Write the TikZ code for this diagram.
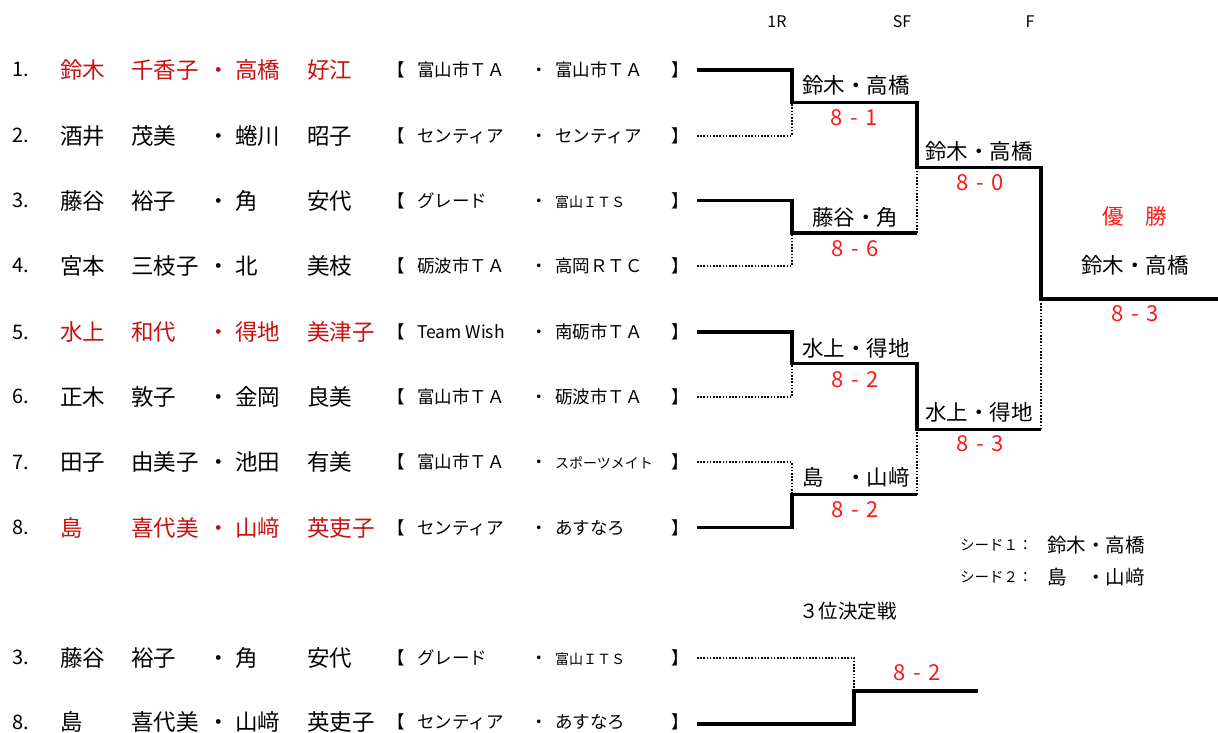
\documentclass[tikz,border=0pt]{standalone}
\usepackage{fontspec}
\setmainfont{Noto Sans CJK JP}
\definecolor{namered}{RGB}{200,16,16}
\definecolor{scorered}{RGB}{255,24,24}
\newcommand\duo[4]{\makebox[71pt][l]{#1}\makebox[76pt][l]{#2}\makebox[28pt][l]{・}\makebox[72pt][l]{#3}#4}
\newcommand\club[2]{\makebox[30pt][l]{【}\makebox[113pt][l]{#1}\makebox[25pt][l]{・}\makebox[116pt][l]{#2}】}
\newcommand\smallclub[1]{{\fontsize{14}{16}\selectfont #1}}
\newcommand\res[2]{#1\hspace{0.35em}-\hspace{0.35em}#2}

\begin{document}
\begin{tikzpicture}[x=1pt, y=-1pt,
    num/.style = {anchor=west, inner sep=0, font=\fontsize{20}{22}\selectfont},
    pl/.style = {anchor=west, inner sep=0, font=\fontsize{22.5}{26}\selectfont},
    club/.style = {anchor=west, inner sep=0, font=\fontsize{17.5}{20}\selectfont},
    lbl/.style = {inner sep=0, font=\fontsize{21.5}{24}\selectfont},
    score/.style = {inner sep=0, text=scorered, font=\fontsize{22}{24}\selectfont},
    head/.style = {inner sep=0, font=\fontsize{16}{18}\selectfont},
    win/.style = {line width=3.2pt},
    lose/.style = {line width=1.7pt, dash pattern=on 1.6pt off 1.6pt}]
    \useasboundingbox (0,0) rectangle (1218,733);

    \node[head](h1) at (777,22) {1R};
    \node[head](h2) at (902,22) {SF};
    \node[head](h3) at (1030,22) {F};

    \node[num](n1) at (12,70) {1.};
    \node[pl, text=namered](p1) at (60,70) {\duo{鈴木}{千香子}{高橋}{好江}};
    \node[club](k1) at (387,70) {\club{富山市ＴＡ}{富山市ＴＡ}};
    \node[num](n2) at (12,135.7) {2.};
    \node[pl](p2) at (60,135.7) {\duo{酒井}{茂美}{蜷川}{昭子}};
    \node[club](k2) at (387,135.7) {\club{センティア}{センティア}};
    \node[num](n3) at (12,200.7) {3.};
    \node[pl](p3) at (60,200.7) {\duo{藤谷}{裕子}{角}{安代}};
    \node[club](k3) at (387,200.7) {\club{グレード}{\smallclub{富山ＩＴＳ}}};
    \node[num](n4) at (12,265.7) {4.};
    \node[pl](p4) at (60,265.7) {\duo{宮本}{三枝子}{北}{美枝}};
    \node[club](k4) at (387,265.7) {\club{砺波市ＴＡ}{高岡ＲＴＣ}};
    \node[num](n5) at (12,332) {5.};
    \node[pl, text=namered](p5) at (60,332) {\duo{水上}{和代}{得地}{美津子}};
    \node[club](k5) at (387,332) {\club{Team Wish}{南砺市ＴＡ}};
    \node[num](n6) at (12,396.7) {6.};
    \node[pl](p6) at (60,396.7) {\duo{正木}{敦子}{金岡}{良美}};
    \node[club](k6) at (387,396.7) {\club{富山市ＴＡ}{砺波市ＴＡ}};
    \node[num](n7) at (12,462.3) {7.};
    \node[pl](p7) at (60,462.3) {\duo{田子}{由美子}{池田}{有美}};
    \node[club](k7) at (387,462.3) {\club{富山市ＴＡ}{\smallclub{スポーツメイト}}};
    \node[num](n8) at (12,527.7) {8.};
    \node[pl, text=namered](p8) at (60,527.7) {\duo{島}{喜代美}{山﨑}{英吏子}};
    \node[club](k8) at (387,527.7) {\club{センティア}{あすなろ}};

    \coordinate (r1) at (697,70);
    \coordinate (r2) at (697,135.7);
    \coordinate (r3) at (697,200.7);
    \coordinate (r4) at (697,265.7);
    \coordinate (r5) at (697,332);
    \coordinate (r6) at (697,396.7);
    \coordinate (r7) at (697,462.3);
    \coordinate (r8) at (697,527.7);
    \coordinate (a1) at (792,102.7);
    \coordinate (a2) at (792,233);
    \coordinate (a3) at (792,363.5);
    \coordinate (a4) at (792,494.5);
    \coordinate (b1) at (917,167.7);
    \coordinate (b2) at (917,429.3);
    \coordinate (c) at (1041,299);
    \coordinate (cw) at (1218,299);

    \draw[win] (r1) -| (a1) -| (b1) -| (c) -- (cw);
    \draw[lose] (r2) -| (a1);
    \draw[win] (r3) -| (a2) -- (a2 -| b1);
    \draw[lose] (a2 -| b1) -- (b1);
    \draw[lose] (r4) -| (a2);
    \draw[win] (r5) -| (a3) -| (b2) -- (b2 -| c);
    \draw[lose] (b2 -| c) -- (c);
    \draw[lose] (r6) -| (a3);
    \draw[lose] (r7) -| (a4);
    \draw[win] (r8) -| (a4) -- (a4 -| b2);
    \draw[lose] (a4 -| b2) -- (b2);

    \node[lbl](m1) at (856,85) {鈴木・高橋};
    \node[score](s1) at (854,118) {\res{8}{1}};
    \node[lbl](m2) at (855,217) {藤谷・角};
    \node[score](s2) at (855,248.5) {\res{8}{6}};
    \node[lbl](m3) at (856,348) {水上・得地};
    \node[score](s3) at (855,379.5) {\res{8}{2}};
    \node[lbl](m4) at (856,477.5) {島　・山﨑};
    \node[score](s4) at (855,509.5) {\res{8}{2}};
    \node[lbl](m5) at (979,151) {鈴木・高橋};
    \node[score](s5) at (980,182.5) {\res{8}{0}};
    \node[lbl](m6) at (979,412) {水上・得地};
    \node[score](s6) at (980,444) {\res{8}{3}};
    \node[lbl, text=scorered](m7) at (1135,216) {優　勝};
    \node[lbl](m8) at (1135,265) {鈴木・高橋};
    \node[score](s7) at (1135,313.5) {\res{8}{3}};

    \node[head, anchor=west, font=\fontsize{14.5}{16}\selectfont](sd1) at (960,545) {シード１：};
    \node[lbl, anchor=west, font=\fontsize{19.5}{22}\selectfont](sn1) at (1047,545) {鈴木・高橋};
    \node[head, anchor=west, font=\fontsize{14.5}{16}\selectfont](sd2) at (960,577) {シード２：};
    \node[lbl, anchor=west, font=\fontsize{19.5}{22}\selectfont](sn2) at (1047,577) {島　・山﨑};

    \node[lbl, font=\fontsize{19.5}{22}\selectfont](third) at (848,611) {３位決定戦};

    \node[num](n9) at (12,657.7) {3.};
    \node[pl](p9) at (60,657.7) {\duo{藤谷}{裕子}{角}{安代}};
    \node[club](k9) at (387,657.7) {\club{グレード}{\smallclub{富山ＩＴＳ}}};
    \node[num](n10) at (12,722) {8.};
    \node[pl](p10) at (60,722) {\duo{島}{喜代美}{山﨑}{英吏子}};
    \node[club](k10) at (387,722) {\club{センティア}{あすなろ}};

    \coordinate (t1) at (697,657.7);
    \coordinate (t2) at (697,724);
    \coordinate (d) at (854,691);
    \coordinate (dw) at (978,691);
    \draw[lose] (t1) -| (d);
    \draw[win] (t2) -| (d) -- (dw);
    \node[score](s8) at (917,672.5) {\res{8}{2}};
\end{tikzpicture}
\end{document}
